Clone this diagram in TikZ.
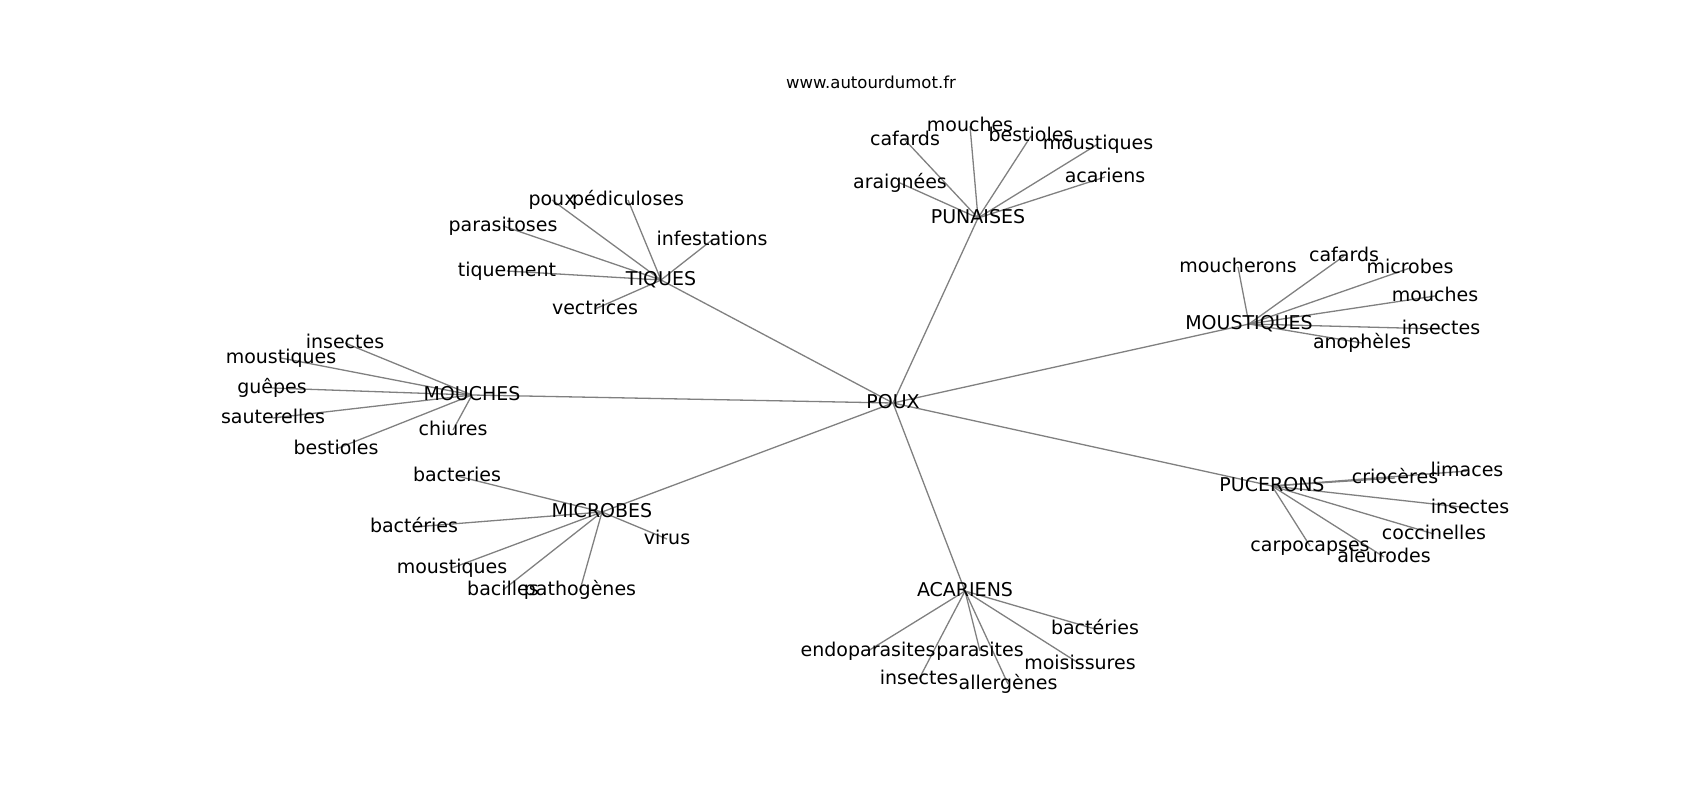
\documentclass[tikz,border=0pt]{standalone}
\usepackage{fontspec}
\setmainfont{DejaVu Sans}
\usepackage{tikz}
\usetikzlibrary{backgrounds}

\begin{document}
\begin{tikzpicture}[x=1pt,y=-1pt,
  word/.style={inner sep=0pt,text height=14.4pt,text depth=4pt,font=\fontsize{19}{19}\selectfont},
  link/.style={draw=black!50,line width=1.3pt}]
\useasboundingbox (0,0) rectangle (1700,800);
\node[inner sep=0pt,text height=12.7pt,text depth=3.5pt,font=\fontsize{16.5}{16.5}\selectfont] (site) at (871,83.5) {www.autourdumot.fr};
% centre and hubs
\node[word] (poux) at (893,403) {POUX};
\node[word] (punaises) at (978,218) {PUNAISES};
\node[word] (tiques) at (661,280) {TIQUES};
\node[word] (moustiques) at (1249,324) {MOUSTIQUES};
\node[word] (mouches) at (472,395) {MOUCHES};
\node[word] (microbes) at (602,512) {MICROBES};
\node[word] (pucerons) at (1272,486) {PUCERONS};
\node[word] (acariens) at (965,591) {ACARIENS};
% punaises
\node[word] (pun-mouches) at (970,126) {mouches};
\node[word] (pun-cafards) at (905,140) {cafards};
\node[word] (pun-bestioles) at (1031,136) {bestioles};
\node[word] (pun-moustiques) at (1098,144) {moustiques};
\node[word] (pun-araignees) at (900,183) {araignées};
\node[word] (pun-acariens) at (1105,177) {acariens};
% tiques
\node[word] (tiq-poux) at (552,200) {poux};
\node[word] (tiq-pediculoses) at (628,200) {pédiculoses};
\node[word] (tiq-parasitoses) at (503,226) {parasitoses};
\node[word] (tiq-infestations) at (712,240) {infestations};
\node[word] (tiq-tiquement) at (507,271) {tiquement};
\node[word] (tiq-vectrices) at (595,309) {vectrices};
% moustiques
\node[word] (mou-moucherons) at (1238,267) {moucherons};
\node[word] (mou-cafards) at (1344,256) {cafards};
\node[word] (mou-microbes) at (1410,268) {microbes};
\node[word] (mou-mouches) at (1435,296) {mouches};
\node[word] (mou-insectes) at (1441,329) {insectes};
\node[word] (mou-anopheles) at (1362,343) {anophèles};
% mouches
\node[word] (mch-insectes) at (345,343) {insectes};
\node[word] (mch-moustiques) at (281,358) {moustiques};
\node[word] (mch-guepes) at (272,388) {guêpes};
\node[word] (mch-sauterelles) at (273,418) {sauterelles};
\node[word] (mch-bestioles) at (336,449) {bestioles};
\node[word] (mch-chiures) at (453,430) {chiures};
% microbes
\node[word] (mic-bacteries) at (457,476) {bacteries};
\node[word] (mic-bacteriesb) at (414,527) {bactéries};
\node[word] (mic-virus) at (667,539) {virus};
\node[word] (mic-moustiques) at (452,568) {moustiques};
\node[word] (mic-bacilles) at (503,590) {bacilles};
\node[word] (mic-pathogenes) at (580,590) {pathogènes};
% pucerons
\node[word] (puc-crioceres) at (1395,478) {criocères};
\node[word] (puc-limaces) at (1467,471) {limaces};
\node[word] (puc-insectes) at (1470,508) {insectes};
\node[word] (puc-coccinelles) at (1434,534) {coccinelles};
\node[word] (puc-carpocapses) at (1310,546) {carpocapses};
\node[word] (puc-aleurodes) at (1384,557) {aleurodes};
% acariens
\node[word] (aca-bacteries) at (1095,629) {bactéries};
\node[word] (aca-endoparasites) at (868,651) {endoparasites};
\node[word] (aca-parasites) at (980,651) {parasites};
\node[word] (aca-moisissures) at (1080,664) {moisissures};
\node[word] (aca-insectes) at (919,679) {insectes};
\node[word] (aca-allergenes) at (1008,684) {allergènes};
% edges
\begin{scope}[on background layer]
\foreach \a/\b in {poux/punaises,poux/tiques,poux/moustiques,poux/mouches,poux/microbes,poux/pucerons,poux/acariens,
  punaises/pun-mouches,punaises/pun-cafards,punaises/pun-bestioles,punaises/pun-moustiques,punaises/pun-araignees,punaises/pun-acariens,
  tiques/tiq-poux,tiques/tiq-pediculoses,tiques/tiq-parasitoses,tiques/tiq-infestations,tiques/tiq-tiquement,tiques/tiq-vectrices,
  moustiques/mou-moucherons,moustiques/mou-cafards,moustiques/mou-microbes,moustiques/mou-mouches,moustiques/mou-insectes,moustiques/mou-anopheles,
  mouches/mch-insectes,mouches/mch-moustiques,mouches/mch-guepes,mouches/mch-sauterelles,mouches/mch-bestioles,mouches/mch-chiures,
  microbes/mic-bacteries,microbes/mic-bacteriesb,microbes/mic-virus,microbes/mic-moustiques,microbes/mic-bacilles,microbes/mic-pathogenes,
  pucerons/puc-crioceres,pucerons/puc-limaces,pucerons/puc-insectes,pucerons/puc-coccinelles,pucerons/puc-carpocapses,pucerons/puc-aleurodes,
  acariens/aca-bacteries,acariens/aca-endoparasites,acariens/aca-parasites,acariens/aca-moisissures,acariens/aca-insectes,acariens/aca-allergenes}
  \draw[link] (\a.center) -- (\b.center);
\end{scope}
\end{tikzpicture}
\end{document}
